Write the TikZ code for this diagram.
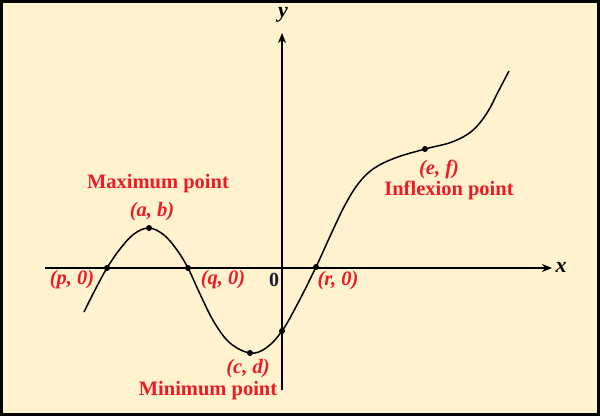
\documentclass[tikz,border=0pt]{standalone}
\usepackage{fontspec}
\setmainfont{Liberation Serif}
\usetikzlibrary{arrows.meta}
\definecolor{bgcream}{HTML}{FFF2CE}
\definecolor{lblred}{HTML}{EC1C24}
\definecolor{zeroink}{HTML}{1A1A30}
\tikzset{
  axisline/.style={line width=1.4pt, draw=black, -{Stealth[length=10pt,width=8pt,inset=3pt]}},
  curveline/.style={line width=1.5pt, draw=black},
  ptdot/.style={circle, fill=black, inner sep=0pt, minimum size=6pt},
  redlbl/.style={text=lblred, font=\fontsize{20.5}{23}\selectfont\bfseries, inner sep=0pt},
  coordlbl/.style={text=lblred, font=\fontsize{20.5}{23}\selectfont\bfseries\itshape, inner sep=0pt},
  axislbl/.style={text=black, font=\fontsize{22}{24}\selectfont\bfseries\itshape, inner sep=0pt}
}
\begin{document}
\begin{tikzpicture}[x=1pt,y=-1pt]
\fill[bgcream] (0,0) rectangle (600,416);
\draw[line width=3pt] (1.5,1.5) rectangle (598.5,414.5);
\useasboundingbox (0,0) rectangle (600,416);

% axes
\coordinate (xs) at (45,268);
\coordinate (xe) at (552,268);
\coordinate (ys) at (282,390);
\coordinate (ye) at (282,33);
\draw[axisline] (xs) -- (xe);
\draw[axisline] (ys) -- (ye);
\node[axislbl] (xl) at (561,267) {x};
\node[axislbl] (yl) at (283,15) {y};
\node[text=zeroink, font=\fontsize{20}{22}\selectfont\bfseries, inner sep=0pt] (zero) at (274,280) {0};

% curve
\draw[curveline] plot[smooth, tension=0.6] coordinates {
 (84,312) (95,290) (107,268) (120,249) (134,234) (149,228) (164,235) (177,250)
 (188,268) (200,294) (214,322) (230,343) (250,353) (266,348) (282,331) (298,303)
 (316,267) (332,232) (345,205) (358,184) (373,169) (395,158) (425,149)
 (452,142) (472,131) (487,113) (498,92) (509,71)};

% points
\node[ptdot] (p) at (107,268) {};
\node[ptdot] (a) at (149,228) {};
\node[ptdot] (q) at (188,268) {};
\node[ptdot] (c) at (250,353) {};
\node[ptdot] (yi) at (282,331) {};
\node[ptdot] (r) at (316,267) {};
\node[ptdot] (e) at (425,149) {};

% labels
\node[redlbl] (maxl) at (158,184) {Maximum point};
\node[coordlbl] (abl) at (152,212) {(a, b)};
\node[coordlbl] (pl) at (72,280) {(p, 0)};
\node[coordlbl] (ql) at (223,280) {(q, 0)};
\node[coordlbl] (rl) at (338,281) {(r, 0)};
\node[coordlbl] (cdl) at (248,369) {(c, d)};
\node[redlbl] (minl) at (208,391) {Minimum point};
\node[coordlbl] (efl) at (439,169) {(e, f)};
\node[redlbl] (infl) at (449,190) {Inflexion point};
\end{tikzpicture}
\end{document}
